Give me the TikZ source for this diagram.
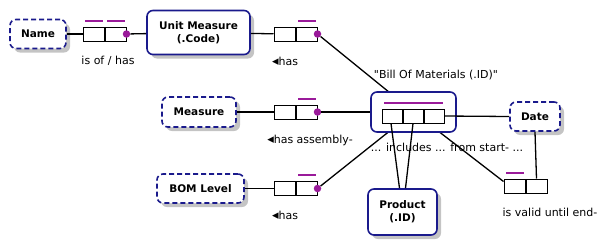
\documentclass[tikz,border=0pt]{standalone}
\usepackage{fontspec}
\setmainfont{DejaVu Sans}[Ligatures=TeXOff]
\usetikzlibrary{shadows,calc}
\definecolor{edge}{HTML}{1A1A8C}
\definecolor{role}{HTML}{9A1A9A}
\definecolor{shadowgray}{HTML}{C4C4C4}
\begin{document}
\begin{tikzpicture}[x=1pt,y=-1pt,
  entity/.style={draw=edge,line width=1.6pt,rounded corners=6pt,fill=white,
    align=center,inner sep=0pt,font=\fontsize{10.5}{13}\selectfont\bfseries},
  valuetype/.style={entity,dash pattern=on 5pt off 3pt},
  shaded/.style={drop shadow={shadow xshift=4pt,shadow yshift=-4pt,fill=shadowgray,opacity=1}},
  cell/.style={draw,line width=1pt,fill=white,minimum width=21pt,minimum height=14pt,inner sep=0pt},
  dot/.style={circle,fill=role,minimum size=7.5pt,inner sep=0pt},
  uniq/.style={fill=role,draw=none},
  conn/.style={line width=1.3pt},
  lbl/.style={font=\fontsize{11}{13}\selectfont,inner sep=0pt}]
\useasboundingbox (0,0) rectangle (603,244);

% object types
\node[valuetype,shaded,minimum width=56pt,minimum height=29pt] (name) at (38,34) {Name};
\node[entity,shaded,minimum width=103pt,minimum height=44pt] (um) at (198.5,32.5) {Unit Measure\\(.Code)};
\node[valuetype,shaded,minimum width=74pt,minimum height=30pt] (meas) at (199,112) {Measure};
\node[valuetype,shaded,minimum width=87pt,minimum height=29pt] (lvl) at (200.5,188.5) {BOM Level};
\node[valuetype,shaded,minimum width=50pt,minimum height=29pt] (date) at (535,116.5) {Date};
\node[entity,shaded,minimum width=69pt,minimum height=46pt] (prod) at (402.5,212) {Product\\(.ID)};

% binary fact types
\foreach \f/\x/\y in {fa/93.5/34, fb/284.5/34, fc/284.5/112, fd/284.5/188.5, fe/514.5/186}{
  \node[cell] (\f1) at (\x,\y) {};
  \node[cell,anchor=west] (\f2) at (\f1.east) {};
}
\node[dot] (fadot) at (fa2.east) {};
\node[dot] (fbdot) at (fb2.east) {};
\node[dot] (fcdot) at (fc2.east) {};
\node[dot] (fddot) at (fd2.east) {};

% connectors to the nested fact type (drawn below its frame)
\coordinate (bomc) at (413.5,112);
\draw[conn] (fbdot) -- (bomc);
\draw[conn] (fcdot) -- (bomc);
\draw[conn] (fddot) -- (bomc);
\draw[conn] (bomc) -- ($(fe1.north west)!0.2!(fe1.south west)$);

% objectified ternary fact type
\node[draw=edge,line width=1.6pt,rounded corners=6pt,fill=white,minimum width=85pt,minimum height=40pt] (bom) at (bomc) {};
\node[cell,minimum width=20pt] (t2) at (413,116) {};
\node[cell,minimum width=20pt,anchor=east] (t1) at (t2.west) {};
\node[cell,minimum width=20pt,anchor=west] (t3) at (t2.east) {};

% remaining connectors
\draw[conn] (name) -- (fa1);
\draw[conn] (fadot) -- (um);
\draw[conn] (um) -- (fb1);
\draw[conn] (meas) -- (fc1);
\draw[conn] (lvl) -- (fd1);
\draw[conn] (t3.east) -- (date.west);
\draw[conn] (date.south) -- (fe2.north);
\draw[conn] ([xshift=-1pt]t1.south) -- ([xshift=-3pt]prod.north);
\draw[conn] (t2.south) -- ([xshift=3pt]prod.north);

% uniqueness constraints (thin bars above the constrained roles)
\newcommand\ucbar[2]{\fill[uniq] ($(#1.north west)+(2,-6.8)$) rectangle ($(#2.north east)+(-2,-5)$);}
\ucbar{fa1}{fa1}
\ucbar{fa2}{fa2}
\ucbar{fb2}{fb2}
\ucbar{fc2}{fc2}
\ucbar{fd2}{fd2}
\ucbar{fe1}{fe1}
\ucbar{t1}{t3}

% readings
\node[lbl] (ra) at (108,61) {is of / has};
\node[lbl] (rb) at (285,61) {{\fontsize{13}{13}\selectfont◂}has};
\node[lbl] (rc) at (310,140) {{\fontsize{13}{13}\selectfont◂}has assembly-};
\node[lbl] (rd) at (285,215) {{\fontsize{13}{13}\selectfont◂}has};
\node[lbl] (rt) at (436,75) {"Bill Of Materials (.ID)"};
\node[lbl] (re) at (447,147) {... includes ... from start- ...};
\node[lbl] (rf) at (550,212) {is valid until end-};
\end{tikzpicture}
\end{document}
